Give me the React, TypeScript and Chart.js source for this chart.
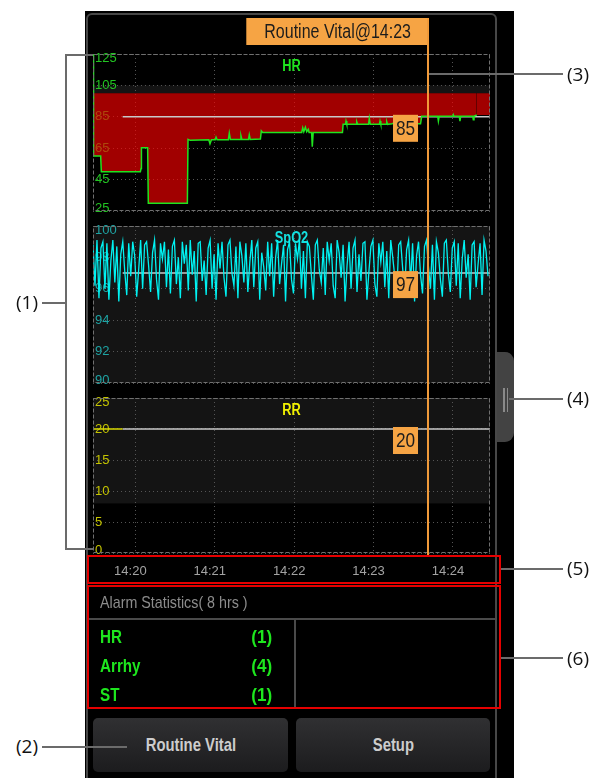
import React, { useEffect, useRef } from 'react';
import { Chart, registerables } from 'chart.js';
Chart.register(...registerables);

const FONT = "'Liberation Sans', Arial, sans-serif";
const NOTE_FONT = "'Open Sans', 'DejaVu Sans', sans-serif";

// ---- time axis: seconds after 14:19:00 ----
const X_MIN = 28;
const X_MAX = 328;
const TIME_TICKS = [60, 120, 180, 240, 300];
const TIME_LABELS = ['14:20', '14:21', '14:22', '14:23', '14:24'];
const CURSOR_T = 281;
const CURSOR_LABEL = 'Routine Vital@14:23';
const REF_START = 50.4;

// ---- HR ----
const HR_MIN = 25, HR_MAX = 125, HR_STEP = 20;
const HR_LIMIT = 100;
const HR_BAND = [[100, 105]];
const HR_REF = 85;
const HR_TRACE_END = 318;
const HR_T = [28, 28.4, 33.8, 34.3, 63.8, 64.3, 64.6, 69.3, 69.8, 99.3, 99.8, 101.5, 115.5, 116.4, 117.5, 120.4, 121, 121.8, 130.3, 131, 131.8, 139.2, 139.8, 140.5, 145.5, 146.1, 146.8, 154.5, 155.2, 156.2, 185.7, 186.5, 187.3, 188.5, 189.5, 190.7, 191.3, 193.2, 193.7, 194.4, 216.5, 217, 218.8, 219.2, 219.8, 226.8, 227.3, 228, 236.2, 236.8, 237.5, 244.4, 244.9, 245.5, 249.5, 250, 250.6, 254, 260, 261, 275.5, 276.4, 288.5, 289, 289.6, 300, 300.3, 300.8, 304.8, 305.3, 305.8, 315, 315.4, 315.9, 318, 328];
const HR_V = [125, 60, 60, 50, 50, 52, 65.3, 65.3, 30, 30, 70.6, 70, 70.4, 67.8, 70.4, 70.4, 72, 70.4, 70.4, 74.6, 70.6, 70.6, 73, 70.6, 70.6, 73.5, 70.6, 70.8, 76, 75, 75, 78, 75.5, 78.4, 75.5, 77, 75, 75, 66, 75, 75, 80.2, 80.2, 82.3, 80.2, 80.2, 81.8, 80.2, 80.2, 84, 80.2, 80.2, 82.3, 80.2, 80.2, 81.8, 80.2, 80.6, 82.5, 80.5, 80.5, 85.3, 85.3, 82.3, 85.3, 85.3, 86.3, 85.3, 85.3, 82.3, 85.3, 85.3, 83.1, 85.3, 86.2, 86.2];

// ---- SpO2 ----
const SPO2_MIN = 90, SPO2_MAX = 100, SPO2_STEPV = 2;
const SPO2_BAND = [[90, 100]];
const SPO2_REF = 97;
const SPO2_START = 28;
const SPO2_DT = 1.5;
const SPO2_V = [
  98.8, 96.2, 99.1, 95.4, 98.6, 99.0, 96.0, 98.9, 95.3, 97.8, 99.1, 96.4, 98.7, 95.2, 98.2, 99.0, 97.1, 95.6, 98.9, 96.8,
  99.0, 98.1, 95.5, 97.2, 99.1, 96.0, 98.8, 99.0, 97.5, 95.8, 98.3, 99.1, 96.6, 95.3, 98.9, 97.9, 99.0, 96.1, 98.5, 95.7,
  98.7, 99.1, 96.3, 98.0, 95.4, 99.0, 97.6, 98.8, 95.9, 99.1, 96.9, 98.4, 95.2, 98.9, 99.0, 96.5, 97.8, 95.6, 98.6, 99.1,
  96.0, 98.2, 95.3, 98.9, 97.3, 99.0, 96.7, 95.5, 98.8, 99.1, 97.0, 96.2, 98.7, 95.4, 99.0, 98.1, 96.4, 98.9, 95.8, 97.7,
  99.1, 96.1, 98.6, 99.0, 95.3, 98.3, 97.4, 95.9, 99.0, 96.8, 98.9, 95.5, 98.0, 99.1, 96.3, 97.6, 98.8, 95.2, 98.5, 99.0,
  96.6, 95.7, 98.9, 97.9, 99.1, 96.0, 98.4, 95.4, 99.0, 98.7, 96.9, 95.3, 98.8, 99.1, 97.2, 96.4, 98.6, 95.6, 99.0, 97.8,
  98.9, 96.2, 95.4, 99.1, 98.3, 96.7, 98.8, 95.2, 97.5, 99.0, 96.0, 98.6, 99.1, 95.8, 98.2, 96.5, 98.9, 99.0, 95.3, 97.1,
  98.7, 99.1, 96.3, 95.5, 98.9, 97.7, 99.0, 96.1, 98.4, 95.4, 99.1, 98.0, 96.8, 95.6, 98.8, 99.0, 97.3, 95.9, 98.5, 99.1,
  96.4, 98.9, 95.2, 98.1, 99.0, 96.9, 95.7, 98.7, 99.1, 97.4, 96.0, 98.8, 95.3, 99.0, 98.3, 96.6, 95.5, 98.9, 99.1, 97.0,
  95.8, 98.6, 99.0, 96.2, 98.9, 95.4, 97.9, 99.1, 96.7, 98.2, 95.3, 98.8, 99.0, 96.1, 97.6, 98.9, 95.6, 99.1, 98.4, 96.8,
];

// ---- RR ----
const RR_MIN = 0, RR_MAX = 25, RR_STEP = 5;
const RR_BAND = [[8, 25]];
const RR_REF = 20;
const RR_T = [28, 50.4];
const RR_V = [20, 20];

// ---- alarm statistics ----
const ALARM_TITLE = 'Alarm Statistics( 8 hrs )';
const ALARM_NAMES = ['HR', 'Arrhy', 'ST'];
const ALARM_COUNTS = [1, 4, 1];
const BUTTONS = ['Routine Vital', 'Setup'];

const ORANGE_BOX = '#f6a444';
const ORANGE_LINE = '#f09a3a';

function narrowText(ctx: any, text: string, x: number, y: number, sx: number) {
  ctx.save();
  ctx.translate(x, y);
  ctx.scale(sx, 1);
  ctx.fillText(text, 0, 0);
  ctx.restore();
}

const decorPlugin = {
  id: 'decor',
  beforeDraw(chart: any, _a: any, o: any) {
    const { ctx, chartArea: a } = chart;
    const y = chart.scales.y;
    ctx.save();
    ctx.fillStyle = '#141414';
    (o.bands || []).forEach(([lo, hi]: number[]) => {
      const t = y.getPixelForValue(hi);
      const b = y.getPixelForValue(lo);
      ctx.fillRect(a.left, t, a.right - a.left, b - t);
    });
    ctx.restore();
  },
  beforeDatasetsDraw(chart: any, _a: any, o: any) {
    const { ctx, chartArea: a } = chart;
    ctx.save();
    ctx.fillStyle = o.titleColor;
    ctx.font = `bold 16px ${FONT}`;
    ctx.textAlign = 'center';
    ctx.textBaseline = 'middle';
    narrowText(ctx, o.title, (a.left + a.right) / 2, a.top + 13, 0.8);
    ctx.restore();
  },
  afterDatasetsDraw(chart: any) {
    const { ctx, chartArea: a } = chart;
    ctx.save();
    ctx.strokeStyle = '#707070';
    ctx.lineWidth = 1;
    ctx.setLineDash([4, 2]);
    ctx.strokeRect(a.left + 0.5, a.top + 0.5, a.right - a.left - 1, a.bottom - a.top - 1);
    ctx.restore();
  },
  afterDraw(chart: any, _a: any, o: any) {
    const { ctx, chartArea: a } = chart;
    const x = chart.scales.x, y = chart.scales.y;
    const cx = Math.round(x.getPixelForValue(o.cursor));
    ctx.save();
    const vy = y.getPixelForValue(o.boxValue);
    const bw = 25, bh = 27;
    const bx = cx - 10 - bw, by = vy - 2;
    ctx.fillStyle = ORANGE_BOX;
    ctx.fillRect(bx, by, bw, bh);
    ctx.fillStyle = '#1c1c1c';
    ctx.font = `21px ${FONT}`;
    ctx.textAlign = 'center';
    ctx.textBaseline = 'middle';
    narrowText(ctx, String(o.boxValue), bx + bw / 2, by + bh / 2 + 1, 0.82);
    let top = 0;
    if (o.label) {
      ctx.font = `20px ${FONT}`;
      const tw = ctx.measureText(o.label).width * 0.8;
      const lw = tw + 36, lh = 27, lt = a.top - 36;
      ctx.fillStyle = ORANGE_BOX;
      ctx.fillRect(cx + 1 - lw, lt, lw, lh);
      ctx.fillStyle = '#1c1c1c';
      narrowText(ctx, o.label, cx + 1 - lw / 2, lt + lh / 2 + 1, 0.8);
      top = lt;
    }
    const bottom = o.toArea ? a.bottom + 2 : chart.height;
    ctx.strokeStyle = ORANGE_LINE;
    ctx.lineWidth = 2;
    ctx.beginPath();
    ctx.moveTo(cx, top);
    ctx.lineTo(cx, bottom);
    ctx.stroke();
    ctx.restore();
  },
};

function makeChart(canvas: HTMLCanvasElement, c: any) {
  const isEdge = (v: number) => v === c.yMin || v === c.yMax;
  return new Chart(canvas, {
    type: 'line',
    data: { datasets: c.datasets },
    plugins: [decorPlugin as any],
    options: {
      responsive: false,
      animation: false,
      devicePixelRatio: 1,
      events: [],
      layout: { autoPadding: false, padding: { left: 93, right: 104, top: c.padTop, bottom: c.padBottom } } as any,
      elements: { point: { radius: 0 }, line: { tension: 0 } },
      scales: {
        x: {
          type: 'linear',
          min: X_MIN,
          max: X_MAX,
          afterBuildTicks: (s: any) => { s.ticks = TIME_TICKS.map((v) => ({ value: v })); },
          afterFit: (s: any) => { s.height = c.showTime ? 29 : 0; },
          ticks: {
            display: !!c.showTime,
            callback: (_v: any, i: number) => TIME_LABELS[i],
            color: '#a3a3a3',
            font: { family: FONT, size: 13 },
            padding: 11,
            labelOffset: -5,
            maxRotation: 0,
            autoSkip: false,
          },
          grid: { color: '#555555', drawTicks: false, lineWidth: 1 },
          border: { display: false, dash: [1, 3] },
        },
        y: {
          min: c.yMin,
          max: c.yMax,
          afterFit: (s: any) => { s.width = 0; },
          ticks: {
            stepSize: c.yStep,
            mirror: true,
            padding: 2,
            color: c.tickColor,
            // keep the end labels inside the plot, as the monitor does
            callback: (v: number) => (v === c.yMax ? ['', String(v)] : v === c.yMin ? [String(v), ''] : String(v)),
            font: (ctx: any) => ({
              family: FONT,
              size: 13,
              lineHeight: ctx.tick && ctx.tick.value === c.yMax ? 0.62 : ctx.tick && ctx.tick.value === c.yMin ? 0.38 : 1.2,
            }),
          },
          grid: { color: '#555555', drawTicks: false, lineWidth: 1 },
          border: { display: false, dash: [1, 3] },
        },
      } as any,
      plugins: {
        legend: { display: false },
        tooltip: { enabled: false },
        filler: { drawTime: 'beforeDatasetsDraw' },
        decor: c.decor,
      } as any,
    },
  });
}

const refLine = (v: number) => ({
  data: [{ x: REF_START, y: v }, { x: X_MAX, y: v }],
  borderColor: '#c8c8c8',
  borderWidth: 1.5,
  fill: false,
  pointRadius: 0,
});

const HLine = ({ x1, x2, y, color = '#6b6b6b', w = 2 }: any) => (
  <div style={{ position: 'absolute', left: x1, top: y - w / 2, width: x2 - x1, height: w, background: color }} />
);
const VLine = ({ x, y1, y2, color = '#6b6b6b', w = 2 }: any) => (
  <div style={{ position: 'absolute', left: x - w / 2, top: y1, width: w, height: y2 - y1, background: color }} />
);
const Note = ({ cx, cy, text }: any) => (
  <div style={{ position: 'absolute', left: cx - 20, top: cy - 13, width: 40, textAlign: 'center', lineHeight: '26px', fontSize: 19, fontFamily: NOTE_FONT, color: '#111' }}>{text}</div>
);
const Narrow = ({ k, origin, children }: any) => (
  <span style={{ display: 'inline-block', transform: `scaleX(${k})`, transformOrigin: origin, whiteSpace: 'pre' }}>{children}</span>
);

export default function App() {
  const hrRef = useRef<HTMLCanvasElement>(null);
  const spRef = useRef<HTMLCanvasElement>(null);
  const rrRef = useRef<HTMLCanvasElement>(null);

  useEffect(() => {
    const charts = [
      makeChart(hrRef.current!, {
        padTop: 43, padBottom: 15, yMin: HR_MIN, yMax: HR_MAX, yStep: HR_STEP, tickColor: '#22c422',
        datasets: [
          {
            data: HR_T.map((t, i) => ({ x: t, y: HR_V[i] })),
            borderColor: '#1fe41f',
            borderWidth: 1.5,
            pointRadius: 0,
            fill: { value: HR_LIMIT },
            backgroundColor: 'rgba(255,0,0,0.63)',
            segment: { borderColor: (ctx: any) => (ctx.p0.parsed.x >= HR_TRACE_END ? 'rgba(0,0,0,0)' : undefined) },
          },
          refLine(HR_REF),
        ],
        decor: { title: 'HR', titleColor: '#1fe41f', bands: HR_BAND, boxValue: HR_REF, cursor: CURSOR_T, label: CURSOR_LABEL },
      }),
      makeChart(spRef.current!, {
        padTop: 12, padBottom: 15, yMin: SPO2_MIN, yMax: SPO2_MAX, yStep: SPO2_STEPV, tickColor: '#1ea3a3',
        datasets: [
          {
            data: SPO2_V.map((v, i) => ({ x: SPO2_START + i * SPO2_DT, y: v })),
            borderColor: '#00f2f2',
            borderWidth: 1.3,
            pointRadius: 0,
            fill: false,
          },
          refLine(SPO2_REF),
        ],
        decor: { title: 'SpO2', titleColor: '#14e0e0', bands: SPO2_BAND, boxValue: SPO2_REF, cursor: CURSOR_T },
      }),
      makeChart(rrRef.current!, {
        padTop: 12, padBottom: 0, yMin: RR_MIN, yMax: RR_MAX, yStep: RR_STEP, tickColor: '#c4c400', showTime: true,
        datasets: [
          {
            data: RR_T.map((t, i) => ({ x: t, y: RR_V[i] })),
            borderColor: '#d8d800',
            borderWidth: 1.5,
            pointRadius: 0,
            fill: false,
          },
          refLine(RR_REF),
        ],
        decor: { title: 'RR', titleColor: '#f0f000', bands: RR_BAND, boxValue: RR_REF, cursor: CURSOR_T, toArea: true },
      }),
    ];
    return () => charts.forEach((ch) => ch.destroy());
  }, []);

  const canvasStyle = (top: number, h: number): React.CSSProperties => ({ position: 'absolute', left: 0, top, width: 594, height: h });

  return (
    <div style={{ position: 'fixed', left: 0, top: 0, width: 594, height: 778, background: '#fff', overflow: 'hidden' }}>
      {/* monitor panel */}
      <div style={{ position: 'absolute', left: 85, top: 11, width: 429, height: 767, background: '#000' }} />
      <div style={{ position: 'absolute', left: 86, top: 13, width: 411, height: 800, border: '2px solid #474747', borderRadius: 6, boxSizing: 'border-box' }} />
      {/* side tab */}
      <div style={{ position: 'absolute', left: 497, top: 352, width: 17, height: 90, background: '#434343', borderTopRightRadius: 9, borderBottomRightRadius: 9 }} />
      <VLine x={504} y1={388} y2={412} color="#8a8a8a" w={1.5} />
      <VLine x={507.5} y1={388} y2={412} color="#8a8a8a" w={1.5} />

      <canvas ref={hrRef} width={594} height={215} style={canvasStyle(11, 215)} />
      <canvas ref={spRef} width={594} height={184} style={canvasStyle(214, 184)} />
      <canvas ref={rrRef} width={594} height={196} style={canvasStyle(386, 196)} />

      {/* time axis box */}
      <div style={{ position: 'absolute', left: 87, top: 555, width: 414, height: 29, border: '2px solid #e60000', boxSizing: 'border-box' }} />

      {/* alarm statistics */}
      <div style={{ position: 'absolute', left: 87, top: 585, width: 414, height: 124, border: '2px solid #e60000', boxSizing: 'border-box' }} />
      <div style={{ position: 'absolute', left: 100, top: 592, fontFamily: FONT, fontSize: 17, lineHeight: '22px', color: '#8c8c8c' }}>
        <Narrow k={0.84} origin="left center">{ALARM_TITLE}</Narrow>
      </div>
      <HLine x1={89} x2={497} y={619} color="#4a4a4a" w={1.5} />
      <VLine x={295} y1={619} y2={707} color="#4a4a4a" w={1.5} />
      {ALARM_NAMES.map((n, i) => (
        <React.Fragment key={n}>
          <div style={{ position: 'absolute', left: 100, top: 637 + i * 29 - 12, fontFamily: FONT, fontWeight: 'bold', fontSize: 19, lineHeight: '24px', color: '#1ee61e' }}>
            <Narrow k={0.8} origin="left center">{n}</Narrow>
          </div>
          <div style={{ position: 'absolute', left: 200, width: 72, textAlign: 'right', top: 637 + i * 29 - 12, fontFamily: FONT, fontWeight: 'bold', fontSize: 19, lineHeight: '24px', color: '#1ee61e' }}>
            <Narrow k={0.9} origin="right center">({ALARM_COUNTS[i]})</Narrow>
          </div>
        </React.Fragment>
      ))}

      {/* buttons */}
      {BUTTONS.map((b, i) => (
        <div key={b} style={{ position: 'absolute', left: i === 0 ? 93 : 296, top: 718, width: i === 0 ? 195 : 194, height: 54, borderRadius: 5, background: 'linear-gradient(#303032, #1c1c1e)', color: '#cdcdcd', fontFamily: FONT, fontWeight: 'bold', fontSize: 19, display: 'flex', alignItems: 'center', justifyContent: 'center' }}>
          <Narrow k={0.78} origin="center center">{b}</Narrow>
        </div>
      ))}

      {/* annotation callouts */}
      <VLine x={66} y1={54} y2={550} />
      <HLine x1={65} x2={93} y={55} />
      <HLine x1={65} x2={93} y={549} />
      <HLine x1={42} x2={66} y={303} />
      <Note cx={27} cy={302} text="(1)" />
      <HLine x1={42} x2={127} y={747} />
      <Note cx={27} cy={746} text="(2)" />
      <HLine x1={429} x2={563} y={74} />
      <Note cx={578} cy={74} text="(3)" />
      <HLine x1={509} x2={563} y={399} />
      <Note cx={578} cy={398} text="(4)" />
      <HLine x1={501} x2={563} y={569} />
      <Note cx={578} cy={568} text="(5)" />
      <HLine x1={501} x2={563} y={658} />
      <Note cx={578} cy={658} text="(6)" />
    </div>
  );
}
